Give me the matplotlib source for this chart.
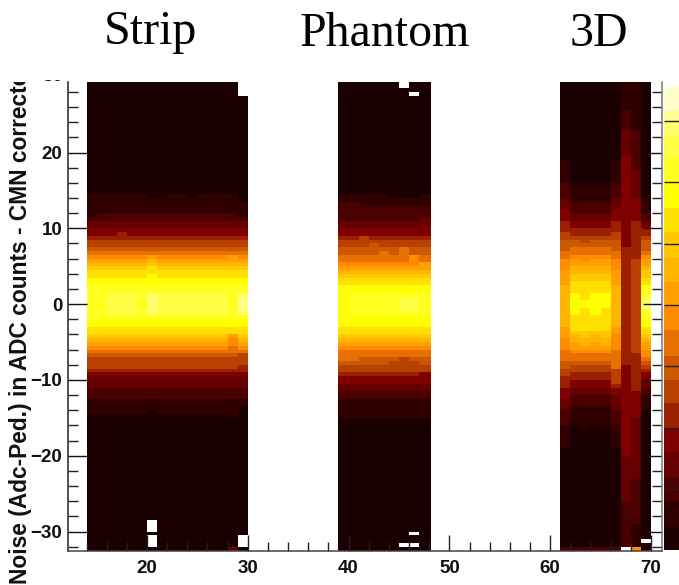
import numpy as np
import matplotlib
matplotlib.use("Agg")
import matplotlib.pyplot as plt
from matplotlib.colors import ListedColormap, BoundaryNorm
from matplotlib.transforms import Bbox

W, H = 679, 585
level_colors = ["#1a0000", "#300000", "#4a0000", "#660000", "#800000", "#9a2000", "#b84000",
                "#cc5800", "#e87000", "#ff8c00", "#ffa000", "#ffb400", "#ffc800", "#ffe000",
                "#ffff00", "#ffff20", "#ffff44", "#ffff70", "#ffff90", "#ffffcc"]

# upper / lower y where each level 1, 2, 3 ... begins, read per column group
strip_top = [14.5, 12, 11, 10, 9, 8.5, 7.5, 7, 6.5, 6, 5.5, 5, 4.5, 3.5, 2.5, 1.5, 1.5, 0.5]
strip_bot = [-14.5, -12.5, -11, -9.5, -9, -8.5, -7, -6.5, -6, -5.5, -5, -4.5, -4, -3, -2, -1.5, -1.5, -0.5]
strip_cols = list(range(14, 30))
strip_peak = [15, 15, 16, 16, 16, 15, 17, 16, 16, 16, 16, 16, 16, 16, 15, 18]

ph_top = [14.5, 13, 11, 10, 9, 8.5, 7.5, 6.5, 5.5, 5, 4.5, 4, 3.5, 2.5, 1.5, 1, 1]
ph_bot = [-15, -12.5, -11.5, -10.5, -9.5, -9, -8, -7, -6, -5.5, -5, -4.5, -4, -3, -1.5, -1, -0.5]
ph_cols = list(range(39, 48))
ph_peak = [14, 15, 15, 15, 15, 15, 16, 16, 15]

# small per-column deviations: column, level, shift of upper edge, shift of lower edge
jit_col = [20, 21, 24, 29, 29, 17, 14, 20, 20, 20, 20, 20, 28, 20, 28, 29, 28, 28, 28, 28, 29, 29,
           39, 40, 41, 44, 45, 46, 47, 42, 43, 45, 46, 47, 47, 39, 40, 44, 45, 46, 47]
jit_lvl = [1, 1, 1, 1, 2, 5, 2, 10, 11, 12, 13, 14, 10, 1, 1, 1, 9, 10, 11, 12, 6, 7,
           2, 2, 6, 1, 1, 1, 4, 7, 8, 8, 9, 10, 3, 8, 8, 7, 7, 7, 5]
jit_top = [-.5, -.5, -.5, -1, -.5, .5, -.5, .5, .5, .5, .5, .5, .5, 0, 0, 0, 0, 0, 0, 0, 0, 0,
           .5, .5, .5, -.5, -.5, -.5, .5, .5, .5, 1, 1, .5, .5, 0, 0, 0, 0, 0, 0]
jit_bot = [0, 0, 0, 0, 0, 0, 0, 0, 0, 0, 0, 0, 0, .5, -.5, 1, .5, 1, 1, .5, .5, .5,
           0, 0, 0, 0, 0, 0, 0, 0, 0, 0, 0, 0, 0, -.5, -.5, .5, 1, .5, .5]

td_cols = [61, 62, 63, 64, 65, 66, 67, 68, 69]
c61_top = [19, 16, 14, 12.5, 11, 9.5, 8.5, 7, 6, 4.5, 2.5]
c61_bot = [-19, -16, -14, -12.5, -11, -9.5, -8.5, -7.5, -6, -4.5, -3]
c62_top = [16, 13.5, 12, 11, 10, 9, 8.5, 7.5, 6.5, 6, 5, 4, 3, 1.5]
c62_bot = [-16, -13.5, -12, -11, -10, -9, -8, -7.5, -6.5, -6, -5, -4, -3.5, -1.5]
c63_top = [16, 13.5, 12, 11, 10, 9, 8, 7.5, 6.5, 5.5, 5, 4, 3, 0.5]
c63_bot = [-16.5, -13.5, -12, -11, -10, -9, -8, -7.5, -6.5, -6, -5.5, -4.5, -3.5, -0.5]
c66_top = [19, 16, 14, 12.5, 11, 9.5, 8.5, 7, 6, 4.5, 2.5]
c66_bot = [-19, -16, -14, -12, -11, -10.5, -8.5, -8.5, -6, -4, -3]
c67_top = [30, 25.5, 23, 19.5, 7.5]
c67_bot = [-32, -32, -26, -20, -8]
c68_top = [30, 23, 17.5, 14, 11, 6]
c68_bot = [-32, -29, -23, -15, -11.5, -6.5]
c69_top = [14, 12, 11, 10.5, 10, 9, 8.5, 7, 6.5, 6, 5, 4.5, 3.5, 2.5, 2, 1, 0.5]
c69_bot = [-14, -12, -11, -10, -9, -8.5, -8, -7.5, -7, -6, -5, -4.5, -4, -3, -2, -1, -0.5]

# empty cells: column, row low, row high
holes_col = [20, 20, 29, 29, 45, 46, 46, 45, 46, 69, 67]
holes_lo = [-30, -32, -32, 27.5, 28.5, 27.5, -30.5, -32, -32, -31.5, -32.5]
holes_hi = [-28.5, -30.5, -30.5, 30, 30, 28, -30, -31.5, -31.5, -31, -32]
# single odd cells: column, row low, level
odd_col = [68, 61, 62, 63, 64, 65, 66, 28]
odd_lo = [-32.5, -32.5, -32.5, -32.5, -32.5, -32.5, -32.5, -32.5]
odd_lvl = [9, 2, 2, 2, 2, 2, 2, 3]

xticks_major = [20, 30, 40, 50, 60, 70]
yticks_major = [-30, -20, -10, 0, 10, 20]
xticks_minor = list(range(14, 72, 2))
yticks_minor = list(range(-32, 30, 2))

# colour bar band edges, level 0 upward
cb_edges = [0, 0.38, 0.80, 1.19, 1.60, 2.0, 2.40, 2.78, 3.17, 3.59, 3.98, 4.37, 4.76, 5.19,
            5.58, 5.98, 6.39, 6.77, 7.0, 7.16, 7.55]
cb_ticks = [1, 2, 3, 4, 5, 6, 7]

x_edges = np.array(list(range(14, 48)) + [48.14] + list(range(49, 71)), dtype=float)
y_edges = np.arange(-32.5, 30.01, 0.5)
Z = np.full((len(y_edges) - 1, len(x_edges) - 1), np.nan)
yc = 0.5 * (y_edges[:-1] + y_edges[1:])


def fill(col, top, bot, peak=99):
    iz = col - 14
    Z[:, iz] = 0
    for lvl, (t, b) in enumerate(zip(top, bot), start=1):
        if lvl > peak:
            break
        dt = sum(a for c, l, a in zip(jit_col, jit_lvl, jit_top) if c == col and l == lvl)
        db = sum(a for c, l, a in zip(jit_col, jit_lvl, jit_bot) if c == col and l == lvl)
        Z[(yc < t + dt) & (yc > b + db), iz] = lvl


for c, p in zip(strip_cols, strip_peak):
    fill(c, strip_top, strip_bot, p)
for c, p in zip(ph_cols, ph_peak):
    fill(c, ph_top, ph_bot, p)
for c, t, b in zip(td_cols,
                   [c61_top, c62_top, c63_top, c62_top, c62_top, c66_top, c67_top, c68_top, c69_top],
                   [c61_bot, c62_bot, c63_bot, c62_bot, c63_bot, c66_bot, c67_bot, c68_bot, c69_bot]):
    fill(c, t, b)
for c, lo, lv in zip(odd_col, odd_lo, odd_lvl):
    Z[(yc > lo) & (yc < lo + 0.5), c - 14] = lv
for c, lo, hi in zip(holes_col, holes_lo, holes_hi):
    Z[(yc > lo) & (yc < hi), c - 14] = np.nan

fig = plt.figure(figsize=(W / 100, H / 100), dpi=100, facecolor="white")


def px_axes(l, t, r, b):
    return fig.add_axes([l / W, 1 - b / H, (r - l) / W, (b - t) / H])


ax = px_axes(68, 82, 662, 550.5)
cmap = ListedColormap(level_colors)
cmap.set_bad("white")
norm = BoundaryNorm(np.arange(-0.5, 20.5, 1), cmap.N)
ax.pcolormesh(x_edges, y_edges, np.ma.masked_invalid(Z), cmap=cmap, norm=norm, shading="flat",
              antialiased=False, zorder=1)
ax.set_xlim(12.16, 71.1)
ax.set_ylim(-32.5, 29.3)
for s, col in [("left", "#222222"), ("bottom", "#444444"), ("right", "#777777")]:
    ax.spines[s].set_color(col)
    ax.spines[s].set_linewidth(1.1)
ax.spines["top"].set_visible(False)
ax.set_xticks(xticks_major)
ax.set_yticks(yticks_major)
ax.set_xticks(xticks_minor, minor=True)
ax.set_yticks(yticks_minor, minor=True)
font = dict(family=["Liberation Sans"], fontweight="bold", fontsize=13.5, color="#111111")
ax.tick_params(axis="y", which="major", direction="in", length=13.7, width=1, left=True, right=True,
               pad=4, color="#111111")
ax.tick_params(axis="y", which="minor", direction="in", length=7.2, width=1, left=True, right=True,
               color="#222222")
ax.tick_params(axis="x", which="major", direction="in", length=11.5, width=1, pad=7, color="#222222")
ax.tick_params(axis="x", which="minor", direction="in", length=6.3, width=1, color="#222222")
ax.set_xticklabels([str(v) for v in xticks_major], **font)
ax.set_yticklabels([str(v).replace("-", "\u2212") for v in yticks_major], **font)

t30 = ax.text(-5 / 594, 30, "30", transform=ax.get_yaxis_transform(), ha="right", va="center", **font)
t30.set_clip_box(Bbox([[0, 0], [W, H - 80]]))
t30.set_clip_on(True)

yl = fig.text(20.5 / W, 1 - 584 / H, "Noise (Adc-Ped.) in ADC counts - CMN corrected", rotation=90,
              ha="center", va="bottom", family=["Liberation Sans"], fontweight="bold", fontsize=16.4,
              color="#111111")
yl.set_clip_box(Bbox([[0, 0], [W, H - 82]]))
yl.set_clip_on(True)

for label, cx, base in [("Strip", 150.5, 44), ("Phantom", 385, 46), ("3D", 598.5, 46)]:
    fig.text(cx / W, 1 - base / H, label, ha="center", va="baseline", family=["Liberation Serif"],
             fontsize=34.5, color="#000000")

cb = fig.add_axes([663.5 / W, 1 - 550.4 / H, 30 / W, (550.4 - 87) / H])
cb.pcolormesh([0, 1], cb_edges, np.arange(20).reshape(-1, 1), cmap=cmap, norm=norm, shading="flat",
              antialiased=False)
cb.set_ylim(0, 7.55)
cb.set_xlim(0, 1)
cb.set_xticks([])
cb.set_yticks(cb_ticks)
cb.tick_params(axis="y", direction="in", length=14, width=1, color="#222222", labelleft=False)
for s in cb.spines.values():
    s.set_visible(False)

fig.savefig("out.png", dpi=100, facecolor="white")
